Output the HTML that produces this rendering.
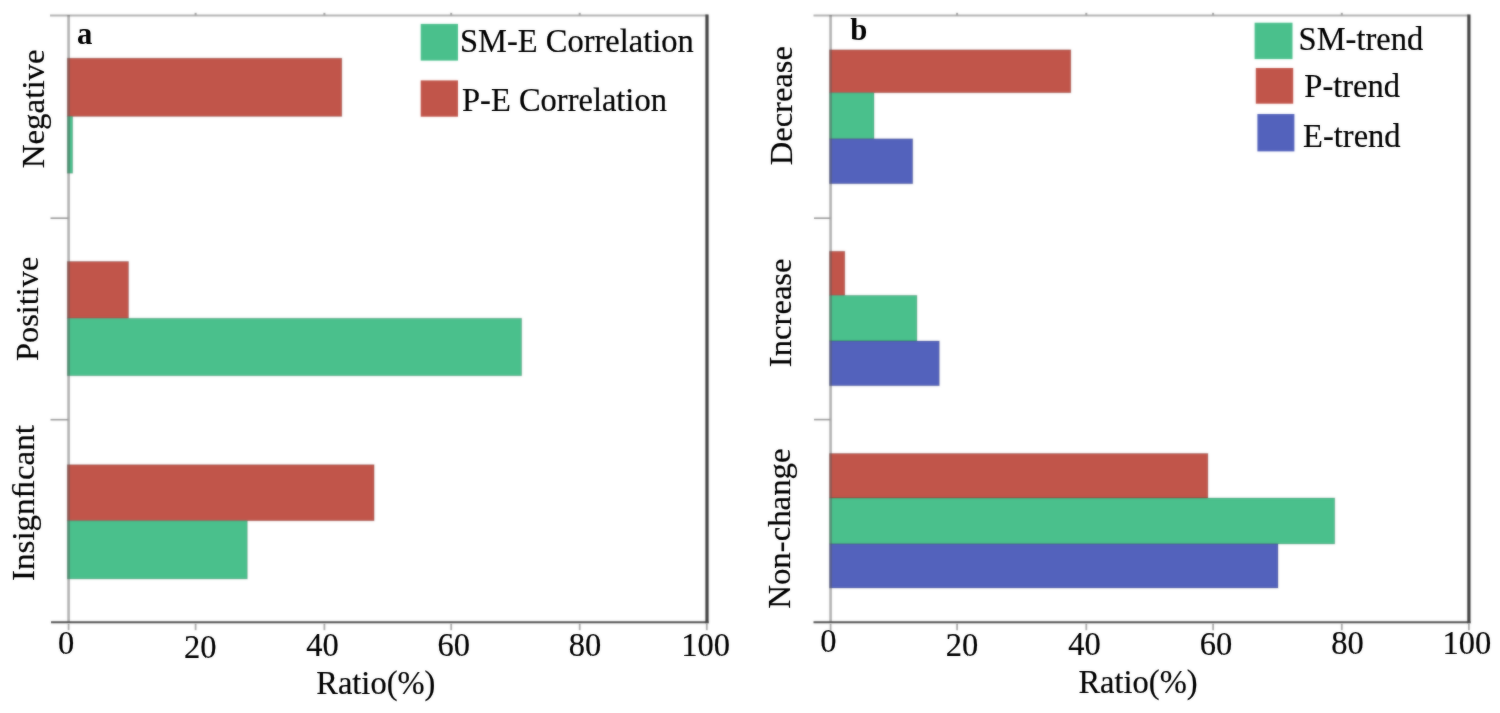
<!DOCTYPE html>
<html>
<head>
<meta charset="utf-8">
<style>
html,body{margin:0;padding:0;background:#fff;}
body{width:1500px;height:713px;overflow:hidden;}
svg{display:block;}
.bar{stroke:rgba(0,0,0,0.16);stroke-width:1;}
text{font-family:"Liberation Serif",serif;fill:#000;stroke:#000;stroke-width:0.2px;}
</style>
</head>
<body>
<svg width="1500" height="713" viewBox="0 0 1500 713">
<defs><filter id="soft" x="0" y="0" width="1500" height="713" filterUnits="userSpaceOnUse" color-interpolation-filters="sRGB"><feGaussianBlur in="SourceGraphic" stdDeviation="0.85" result="b"/><feComposite in="SourceGraphic" in2="b" operator="arithmetic" k1="0" k2="0.45" k3="0.55" k4="0"/></filter><filter id="softt" x="0" y="0" width="1500" height="713" filterUnits="userSpaceOnUse" color-interpolation-filters="sRGB"><feGaussianBlur in="SourceGraphic" stdDeviation="0.85" result="b"/><feComposite in="SourceGraphic" in2="b" operator="arithmetic" k1="0" k2="0.7" k3="0.3" k4="0"/></filter></defs>
<g filter="url(#soft)">
<rect x="0" y="0" width="1500" height="713" fill="#fff"/>
<rect x="67.30" y="58.20" width="274.50" height="58.20" fill="#c1554a" class="bar"/>
<rect x="67.30" y="116.40" width="5.30" height="56.80" fill="#4ac08c" class="bar"/>
<rect x="67.30" y="261.50" width="61.20" height="56.80" fill="#c1554a" class="bar"/>
<rect x="67.30" y="318.30" width="454.30" height="57.40" fill="#4ac08c" class="bar"/>
<rect x="67.30" y="464.70" width="306.80" height="56.00" fill="#c1554a" class="bar"/>
<rect x="67.30" y="520.70" width="180.00" height="58.20" fill="#4ac08c" class="bar"/>
<line x1="50.00" y1="15.50" x2="707.50" y2="15.50" stroke="#b2b2b2" stroke-width="2.2"/>
<line x1="68.60" y1="15.00" x2="68.60" y2="623.00" stroke="#5a5a5a" stroke-width="2.6" stroke-opacity="0.47"/>
<line x1="51.00" y1="622.20" x2="708.50" y2="622.20" stroke="#4e4e4e" stroke-width="2"/>
<line x1="707.00" y1="14.50" x2="707.00" y2="623.20" stroke="#404040" stroke-width="3.2"/>
<line x1="50.50" y1="218.20" x2="68.60" y2="218.20" stroke="#9a9a9a" stroke-width="1.6"/>
<line x1="50.50" y1="419.70" x2="68.60" y2="419.70" stroke="#9a9a9a" stroke-width="1.6"/>
<line x1="68.60" y1="623.80" x2="68.60" y2="630.20" stroke="#a8a8a8" stroke-width="1.8"/>
<line x1="195.60" y1="623.80" x2="195.60" y2="630.20" stroke="#a8a8a8" stroke-width="1.8"/>
<line x1="324.40" y1="623.80" x2="324.40" y2="630.20" stroke="#a8a8a8" stroke-width="1.8"/>
<line x1="451.20" y1="623.80" x2="451.20" y2="630.20" stroke="#a8a8a8" stroke-width="1.8"/>
<line x1="579.70" y1="623.80" x2="579.70" y2="630.20" stroke="#a8a8a8" stroke-width="1.8"/>
<line x1="706.80" y1="623.80" x2="706.80" y2="630.20" stroke="#a8a8a8" stroke-width="1.8"/>
<line x1="195.60" y1="12.80" x2="195.60" y2="15.50" stroke="#a0a0a0" stroke-width="2"/>
<line x1="324.40" y1="12.80" x2="324.40" y2="15.50" stroke="#a0a0a0" stroke-width="2"/>
<line x1="451.20" y1="12.80" x2="451.20" y2="15.50" stroke="#a0a0a0" stroke-width="2"/>
<line x1="579.70" y1="12.80" x2="579.70" y2="15.50" stroke="#a0a0a0" stroke-width="2"/>
<rect x="420.70" y="23.90" width="37.30" height="36.70" fill="#4ac08c"/>
<rect x="420.70" y="80.40" width="37.30" height="36.30" fill="#c1554a"/>
<rect x="829.50" y="49.80" width="241.30" height="42.90" fill="#c1554a" class="bar"/>
<rect x="829.50" y="92.70" width="44.50" height="46.10" fill="#4ac08c" class="bar"/>
<rect x="829.50" y="138.80" width="83.20" height="44.90" fill="#5362bc" class="bar"/>
<rect x="829.50" y="251.30" width="15.30" height="44.10" fill="#c1554a" class="bar"/>
<rect x="829.50" y="295.40" width="87.40" height="45.60" fill="#4ac08c" class="bar"/>
<rect x="829.50" y="341.00" width="109.80" height="44.70" fill="#5362bc" class="bar"/>
<rect x="829.50" y="453.50" width="378.40" height="44.50" fill="#c1554a" class="bar"/>
<rect x="829.50" y="498.00" width="505.20" height="45.90" fill="#4ac08c" class="bar"/>
<rect x="829.50" y="543.90" width="448.50" height="44.10" fill="#5362bc" class="bar"/>
<line x1="813.50" y1="15.50" x2="1469.50" y2="15.50" stroke="#b2b2b2" stroke-width="2.2"/>
<line x1="830.60" y1="15.00" x2="830.60" y2="623.00" stroke="#5a5a5a" stroke-width="2.6" stroke-opacity="0.47"/>
<line x1="813.50" y1="622.30" x2="1470.50" y2="622.30" stroke="#4e4e4e" stroke-width="2"/>
<line x1="1468.90" y1="14.50" x2="1468.90" y2="623.30" stroke="#404040" stroke-width="3.2"/>
<line x1="814.00" y1="218.20" x2="830.60" y2="218.20" stroke="#9a9a9a" stroke-width="1.6"/>
<line x1="814.00" y1="419.60" x2="830.60" y2="419.60" stroke="#9a9a9a" stroke-width="1.6"/>
<line x1="830.60" y1="623.80" x2="830.60" y2="630.20" stroke="#a8a8a8" stroke-width="1.8"/>
<line x1="957.10" y1="623.80" x2="957.10" y2="630.20" stroke="#a8a8a8" stroke-width="1.8"/>
<line x1="1086.30" y1="623.80" x2="1086.30" y2="630.20" stroke="#a8a8a8" stroke-width="1.8"/>
<line x1="1213.10" y1="623.80" x2="1213.10" y2="630.20" stroke="#a8a8a8" stroke-width="1.8"/>
<line x1="1341.80" y1="623.80" x2="1341.80" y2="630.20" stroke="#a8a8a8" stroke-width="1.8"/>
<line x1="1468.90" y1="623.80" x2="1468.90" y2="630.20" stroke="#a8a8a8" stroke-width="1.8"/>
<line x1="957.10" y1="12.80" x2="957.10" y2="15.50" stroke="#a0a0a0" stroke-width="2"/>
<line x1="1086.30" y1="12.80" x2="1086.30" y2="15.50" stroke="#a0a0a0" stroke-width="2"/>
<line x1="1213.10" y1="12.80" x2="1213.10" y2="15.50" stroke="#a0a0a0" stroke-width="2"/>
<line x1="1341.80" y1="12.80" x2="1341.80" y2="15.50" stroke="#a0a0a0" stroke-width="2"/>
<rect x="1254.60" y="22.70" width="37.90" height="36.40" fill="#4ac08c"/>
<rect x="1255.80" y="68.00" width="37.40" height="35.70" fill="#c1554a"/>
<rect x="1257.40" y="114.00" width="37.00" height="37.40" fill="#5362bc"/>
</g>
<g id="txt" filter="url(#softt)">
<text transform="translate(460.00,51.60) scale(0.985,1)" font-size="33">SM-E Correlation</text>
<text transform="translate(462.00,111.30) scale(0.985,1)" font-size="33">P-E Correlation</text>
<text transform="translate(77.00,43.60) scale(0.960,1)" font-size="32" font-weight="bold" style="stroke-width:0">a</text>
<text transform="translate(44.00,108.80) scale(0.985,1.000) rotate(-90)" text-anchor="middle" font-size="33">Negative</text>
<text transform="translate(38.20,308.75) scale(0.985,0.982) rotate(-90)" text-anchor="middle" font-size="33">Positive</text>
<text transform="translate(33.70,503.00) scale(0.985,1.000) rotate(-90)" text-anchor="middle" font-size="33">Insign&#xFB01;cant</text>
<text transform="translate(66.20,653.50) scale(0.985,1)" font-size="33" text-anchor="middle">0</text>
<text transform="translate(200.20,657.50) scale(0.985,1)" font-size="33" text-anchor="middle">20</text>
<text transform="translate(322.50,655.50) scale(0.985,1)" font-size="33" text-anchor="middle">40</text>
<text transform="translate(453.70,655.50) scale(0.985,1)" font-size="33" text-anchor="middle">60</text>
<text transform="translate(585.00,656.00) scale(0.985,1)" font-size="33" text-anchor="middle">80</text>
<text transform="translate(705.70,656.00) scale(0.985,1)" font-size="33" text-anchor="middle">100</text>
<text transform="translate(375.80,694.20) scale(0.985,1)" font-size="33" text-anchor="middle">Ratio(%)</text>
<text transform="translate(1298.60,49.60) scale(0.985,1)" font-size="33">SM-trend</text>
<text transform="translate(1304.30,97.40) scale(0.985,1)" font-size="33">P-trend</text>
<text transform="translate(1303.10,146.80) scale(0.985,1)" font-size="33">E-trend</text>
<text transform="translate(850.20,39.60) scale(0.960,1)" font-size="32" font-weight="bold" style="stroke-width:0">b</text>
<text transform="translate(791.80,105.70) scale(0.985,0.987) rotate(-90)" text-anchor="middle" font-size="33">Decrease</text>
<text transform="translate(790.60,312.80) scale(0.985,0.989) rotate(-90)" text-anchor="middle" font-size="33">Increase</text>
<text transform="translate(790.40,528.60) scale(0.985,0.994) rotate(-90)" text-anchor="middle" font-size="33">Non-change</text>
<text transform="translate(828.30,652.00) scale(0.985,1)" font-size="33" text-anchor="middle">0</text>
<text transform="translate(962.00,656.30) scale(0.985,1)" font-size="33" text-anchor="middle">20</text>
<text transform="translate(1084.50,654.50) scale(0.985,1)" font-size="33" text-anchor="middle">40</text>
<text transform="translate(1216.10,654.50) scale(0.985,1)" font-size="33" text-anchor="middle">60</text>
<text transform="translate(1347.60,654.20) scale(0.985,1)" font-size="33" text-anchor="middle">80</text>
<text transform="translate(1466.80,654.20) scale(0.985,1)" font-size="33" text-anchor="middle">100</text>
<text transform="translate(1138.00,692.80) scale(0.985,1)" font-size="33" text-anchor="middle">Ratio(%)</text>
</g>
</svg>
</body>
</html>
